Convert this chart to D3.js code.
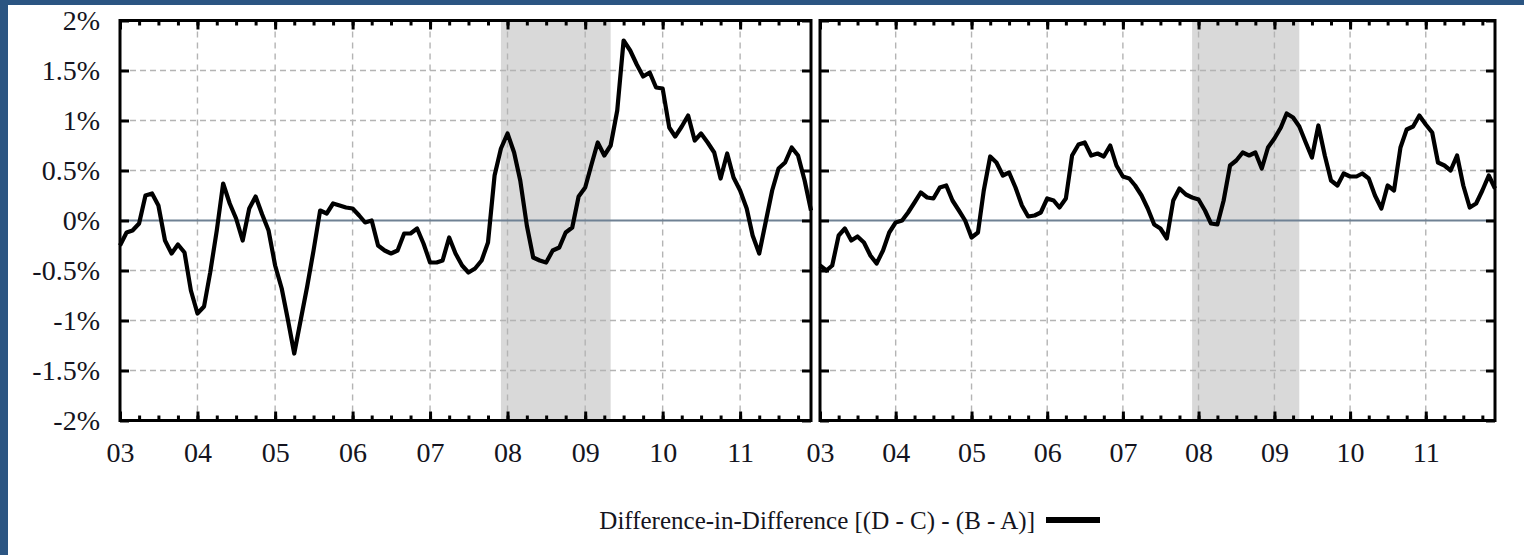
<!DOCTYPE html>
<html>
<head>
<meta charset="utf-8">
<script src="https://cdnjs.cloudflare.com/ajax/libs/d3/7.8.5/d3.min.js"></script>
<style>
body { margin: 0; background: #2b5582; }
svg { display: block; }
text { font-family: "Liberation Serif", "Times New Roman", serif; fill: #141420; }
</style>
</head>
<body>
<script>
// monthly values, Jan 2003 .. Dec 2011, in percent
var yearLabels = ['03', '04', '05', '06', '07', '08', '09', '10', '11'];
var yTickValues = [2, 1.5, 1, 0.5, 0, -0.5, -1, -1.5, -2];
var yTickLabels = ['2%', '1.5%', '1%', '0.5%', '0%', '-0.5%', '-1%', '-1.5%', '-2%'];

var leftValues = [
	-0.25, -0.12, -0.10, -0.03, 0.25, 0.27, 0.15, -0.20, -0.33, -0.24, -0.32, -0.70,
	-0.93, -0.86, -0.52, -0.10, 0.37, 0.17, 0.02, -0.20, 0.12, 0.24, 0.06, -0.10,
	-0.45, -0.68, -0.98, -1.33, -1.00, -0.66, -0.30, 0.10, 0.07, 0.17, 0.15, 0.13,
	0.12, 0.05, -0.02, 0.00, -0.25, -0.30, -0.33, -0.30, -0.13, -0.13, -0.08, -0.23,
	-0.42, -0.42, -0.40, -0.17, -0.33, -0.45, -0.52, -0.48, -0.40, -0.22, 0.45, 0.72,
	0.87, 0.68, 0.40, -0.05, -0.37, -0.40, -0.42, -0.30, -0.27, -0.12, -0.07, 0.24,
	0.33, 0.57, 0.78, 0.65, 0.75, 1.10, 1.80, 1.70, 1.56, 1.44, 1.48, 1.33,
	1.32, 0.93, 0.84, 0.94, 1.05, 0.80, 0.87, 0.78, 0.68, 0.42, 0.67, 0.43,
	0.30, 0.12, -0.15, -0.33, -0.02, 0.30, 0.52, 0.58, 0.73, 0.65, 0.40, 0.10
];

var rightValues = [
	-0.45, -0.50, -0.45, -0.15, -0.08, -0.20, -0.16, -0.22, -0.35, -0.43, -0.30, -0.12,
	-0.02, 0.00, 0.08, 0.18, 0.28, 0.23, 0.22, 0.33, 0.35, 0.20, 0.10, 0.00,
	-0.17, -0.12, 0.30, 0.64, 0.58, 0.45, 0.48, 0.33, 0.15, 0.04, 0.05, 0.08,
	0.22, 0.20, 0.13, 0.22, 0.65, 0.76, 0.78, 0.65, 0.67, 0.64, 0.75, 0.55,
	0.44, 0.42, 0.35, 0.25, 0.12, -0.04, -0.08, -0.18, 0.20, 0.32, 0.26, 0.23,
	0.21, 0.10, -0.03, -0.04, 0.20, 0.55, 0.60, 0.68, 0.65, 0.68, 0.52, 0.73,
	0.82, 0.93, 1.07, 1.03, 0.94, 0.78, 0.63, 0.95, 0.65, 0.40, 0.35, 0.47,
	0.44, 0.44, 0.47, 0.42, 0.25, 0.12, 0.35, 0.30, 0.73, 0.91, 0.94, 1.05,
	0.96, 0.88, 0.58, 0.55, 0.50, 0.65, 0.35, 0.13, 0.17, 0.30, 0.45, 0.32
];

var recessionStart = new Date(2007, 11, 1);
var recessionEnd = new Date(2009, 4, 1);
var legendLabel = 'Difference-in-Difference [(D - C) - (B - A)]';

var months = d3.timeMonth.range(new Date(2003, 0, 1), new Date(2012, 0, 1));
var yearTicks = d3.timeYear.range(new Date(2003, 0, 1), new Date(2012, 0, 1));
var quarterTicks = d3.timeMonth.every(3).range(new Date(2003, 0, 1), new Date(2012, 0, 1));

var width = 1524, height = 555;
var plotTop = 20.5, plotBottom = 420.5;

var svg = d3.select('body').append('svg')
	.attr('width', width)
	.attr('height', height);

svg.append('rect')
	.attr('x', 8)
	.attr('y', 5)
	.attr('width', width - 8)
	.attr('height', height - 5)
	.attr('fill', '#ffffff');

var y = d3.scaleLinear()
	.domain([-2, 2])
	.range([plotBottom, plotTop]);

var panels = [
	{ left: 120, right: 811, values: leftValues, labels: true },
	{ left: 820, right: 1495, values: rightValues, labels: false }
];

panels.forEach(function(p) {
	var x = d3.scaleTime()
		.domain([months[0], months[months.length - 1]])
		.range([p.left, p.right]);

	var g = svg.append('g');

	// recession shading
	g.append('rect')
		.attr('x', x(recessionStart))
		.attr('y', plotTop)
		.attr('width', x(recessionEnd) - x(recessionStart))
		.attr('height', plotBottom - plotTop)
		.attr('fill', '#d9d9d9');

	// grid
	g.selectAll('.vgrid')
		.data(yearTicks.slice(1))
		.enter().append('line')
		.attr('x1', function(d) { return x(d); })
		.attr('x2', function(d) { return x(d); })
		.attr('y1', plotTop)
		.attr('y2', plotBottom)
		.attr('stroke', '#b4b4b4')
		.attr('stroke-width', 1.4)
		.attr('stroke-dasharray', '6,5');

	g.selectAll('.hgrid')
		.data(yTickValues.filter(function(v) { return v !== 0 && Math.abs(v) < 2; }))
		.enter().append('line')
		.attr('x1', p.left)
		.attr('x2', p.right)
		.attr('y1', function(d) { return y(d); })
		.attr('y2', function(d) { return y(d); })
		.attr('stroke', '#b4b4b4')
		.attr('stroke-width', 1.4)
		.attr('stroke-dasharray', '6,4');

	// zero line
	g.append('line')
		.attr('x1', p.left)
		.attr('x2', p.right)
		.attr('y1', y(0))
		.attr('y2', y(0))
		.attr('stroke', '#6f8194')
		.attr('stroke-width', 2.2);

	// series
	var line = d3.line()
		.x(function(d, i) { return x(months[i]); })
		.y(function(d) { return y(d); });

	g.append('path')
		.datum(p.values)
		.attr('fill', 'none')
		.attr('stroke', '#000')
		.attr('stroke-width', 4.2)
		.attr('stroke-linejoin', 'round')
		.attr('d', line);

	// ticks, drawn inward on all four sides
	var axes = [
		{ axis: d3.axisBottom(x), at: 'translate(0,' + plotBottom + ')' },
		{ axis: d3.axisTop(x), at: 'translate(0,' + plotTop + ')' }
	];
	axes.forEach(function(a) {
		g.append('g')
			.attr('transform', a.at)
			.call(a.axis.tickValues(quarterTicks).tickSize(-5).tickFormat(''))
			.call(function(s) { s.select('.domain').remove(); })
			.selectAll('line').attr('stroke-width', 3);
	});

	var xb = g.append('g')
		.attr('transform', 'translate(0,' + plotBottom + ')')
		.call(d3.axisBottom(x).tickValues(yearTicks).tickSizeInner(-9).tickSizeOuter(0).tickPadding(22)
			.tickFormat(function(d, i) { return yearLabels[i]; }));
	xb.select('.domain').remove();
	xb.selectAll('line').attr('stroke-width', 3);
	xb.selectAll('text')
		.style('font-size', '28px')
		.attr('font-family', null)
		.attr('fill', '#141420');

	var xt = g.append('g')
		.attr('transform', 'translate(0,' + plotTop + ')')
		.call(d3.axisTop(x).tickValues(yearTicks).tickSize(-9).tickFormat(''));
	xt.select('.domain').remove();
	xt.selectAll('line').attr('stroke-width', 3);

	var yl = g.append('g')
		.attr('transform', 'translate(' + p.left + ',0)')
		.call(d3.axisLeft(y).tickValues(yTickValues).tickSizeInner(-9).tickSizeOuter(0).tickPadding(20)
			.tickFormat(function(d, i) { return p.labels ? yTickLabels[i] : ''; }));
	yl.select('.domain').remove();
	yl.selectAll('line').attr('stroke-width', 3);
	yl.selectAll('text')
		.style('font-size', '28px')
		.attr('font-family', null)
		.attr('fill', '#141420');

	var yr = g.append('g')
		.attr('transform', 'translate(' + p.right + ',0)')
		.call(d3.axisRight(y).tickValues(yTickValues).tickSize(-9).tickFormat(''));
	yr.select('.domain').remove();
	yr.selectAll('line').attr('stroke-width', 3);

	// frame
	g.append('rect')
		.attr('x', p.left)
		.attr('y', plotTop)
		.attr('width', p.right - p.left)
		.attr('height', plotBottom - plotTop)
		.attr('fill', 'none')
		.attr('stroke', '#000')
		.attr('stroke-width', 3);
});

// legend
var legend = svg.append('g');
legend.append('text')
	.attr('x', 1035)
	.attr('y', 529)
	.attr('text-anchor', 'end')
	.style('font-size', '25px')
	.text(legendLabel);
legend.append('line')
	.attr('x1', 1046)
	.attr('x2', 1100)
	.attr('y1', 520)
	.attr('y2', 520)
	.attr('stroke', '#000')
	.attr('stroke-width', 6);
</script>
</body>
</html>
